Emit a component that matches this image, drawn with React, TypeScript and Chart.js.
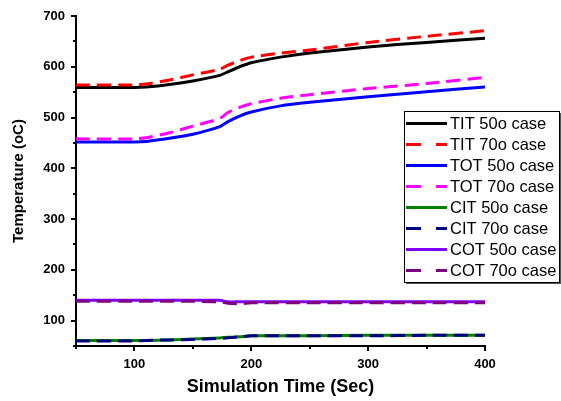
import React, { useEffect, useRef } from "react";
import { Chart, registerables } from "chart.js";

Chart.register(...registerables);

const timeSec = [50, 100, 110, 130, 150, 173, 180, 190, 200, 225, 250, 300, 350, 400];
const tit50 = [559, 559, 560, 565, 572, 583, 590, 600, 608, 619, 627, 639, 648, 656];
const tit70 = [564, 564, 566, 574, 584, 595, 603, 612, 619, 627, 633, 648, 660, 671];
const tot50 = [452, 452, 453, 459, 467, 482, 492, 503, 511, 523, 530, 541, 551, 560];
const tot70 = [458, 458, 460, 470, 483, 498, 510, 520, 527, 538, 545, 557, 567, 579];
const cit50 = [61, 61, 61, 62, 64, 66, 67, 68, 70, 70, 70, 71, 71, 71];
const cit70 = [60, 60, 61, 62, 63, 65, 66, 68, 70, 70, 70, 70, 71, 71];
const cot50 = [140, 140, 140, 140, 140, 140, 137, 137, 137, 137, 137, 137, 137, 137];
const cot70 = [138, 138, 138, 138, 138, 137, 134, 133, 135, 135, 135, 135, 135, 135];

const seriesNames = [
  "TIT 50o case", "TIT 70o case", "TOT 50o case", "TOT 70o case",
  "CIT 50o case", "CIT 70o case", "COT 50o case", "COT 70o case",
];
const seriesValues = [tit50, tit70, tot50, tot70, cit50, cit70, cot50, cot70];
const seriesColors = ["#000000", "#ff0000", "#0000ff", "#ff00ff", "#008000", "#000080", "#8000ff", "#800080"];
const seriesDashed = [false, true, false, true, false, true, false, true];

const xTickLabels = [100, 200, 300, 400];
const yTickLabels = [100, 200, 300, 400, 500, 600, 700];

const FONT = "'Liberation Sans', Arial, sans-serif";

const axisTicksPlugin = {
  id: "axisTicks",
  afterDraw(chart: any) {
    const ctx = chart.ctx;
    const xs = chart.scales.x;
    const ys = chart.scales.y;
    const area = chart.chartArea;
    ctx.save();
    ctx.strokeStyle = "#000";
    ctx.lineWidth = 2;
    for (let v = 50; v <= 400; v += 50) {
      const px = Math.round(xs.getPixelForValue(v));
      const len = xTickLabels.includes(v) ? 5 : 3;
      ctx.beginPath();
      ctx.moveTo(px, area.bottom);
      ctx.lineTo(px, area.bottom + len);
      ctx.stroke();
    }
    for (let v = 50; v <= 700; v += 50) {
      const py = Math.round(ys.getPixelForValue(v));
      const len = yTickLabels.includes(v) ? 5 : 3;
      ctx.beginPath();
      ctx.moveTo(area.left, py);
      ctx.lineTo(area.left - len, py);
      ctx.stroke();
    }
    ctx.restore();
  },
};

const legendPlugin = {
  id: "boxLegend",
  afterDraw(chart: any) {
    const ctx = chart.ctx;
    const left = 404;
    const top = 111;
    const w = 155;
    const h = 171;
    ctx.save();
    ctx.fillStyle = "#555";
    ctx.fillRect(left + 2, top + 2, w, h);
    ctx.fillStyle = "#fff";
    ctx.fillRect(left, top, w, h);
    ctx.strokeStyle = "#000";
    ctx.lineWidth = 1;
    ctx.strokeRect(left + 0.5, top + 0.5, w, h);
    ctx.font = `16.5px ${FONT}`;
    ctx.textBaseline = "middle";
    ctx.textAlign = "left";
    for (let i = 0; i < seriesNames.length; i++) {
      const cy = top + 12.5 + i * 21;
      ctx.strokeStyle = seriesColors[i];
      ctx.lineWidth = 3;
      ctx.setLineDash(seriesDashed[i] ? [15, 15] : []);
      ctx.beginPath();
      ctx.moveTo(406, cy);
      ctx.lineTo(447, cy);
      ctx.stroke();
      ctx.setLineDash([]);
      ctx.fillStyle = "#000";
      ctx.fillText(seriesNames[i], 450, cy + 1);
    }
    ctx.restore();
  },
};

export default function App() {
  const ref = useRef<HTMLCanvasElement>(null);
  useEffect(() => {
    if (!ref.current) return;
    const datasets = seriesNames.map((name, i) => ({
      label: name,
      data: timeSec.map((t, j) => ({ x: t, y: seriesValues[i][j] })),
      borderColor: seriesColors[i],
      backgroundColor: seriesColors[i],
      borderWidth: 3,
      borderDash: seriesDashed[i] ? [14, 7] : [],
      pointRadius: 0,
      tension: 0.2,
      fill: false,
      order: seriesNames.length - i,
    }));
    const chart = new Chart(ref.current, {
      type: "line",
      data: { datasets },
      options: {
        animation: false,
        responsive: false,
        maintainAspectRatio: false,
        layout: { padding: { top: 16, right: 76, left: 10, bottom: 3 } },
        plugins: { legend: { display: false }, tooltip: { enabled: false } },
        scales: {
          x: {
            type: "linear",
            min: 50,
            max: 400,
            border: { display: true, color: "#000", width: 2 },
            grid: { display: true, drawOnChartArea: false, drawTicks: true, tickLength: 5, color: "rgba(0,0,0,0)" },
            ticks: {
              stepSize: 50,
              autoSkip: false,
              maxRotation: 0,
              padding: 6,
              color: "#000",
              font: { family: FONT, size: 13, weight: "bold" },
              callback: (v: any) => (xTickLabels.includes(Number(v)) ? String(v) : ""),
            },
            title: {
              display: true,
              text: "Simulation Time (Sec)",
              color: "#000",
              font: { family: FONT, size: 18, weight: "bold" },
              padding: { top: 4, bottom: 0 },
            },
            afterFit: (s: any) => { s.height = 52; },
          },
          y: {
            type: "linear",
            min: 50,
            max: 700,
            border: { display: true, color: "#000", width: 2 },
            grid: { display: true, drawOnChartArea: false, drawTicks: true, tickLength: 5, color: "rgba(0,0,0,0)" },
            ticks: {
              stepSize: 50,
              autoSkip: false,
              padding: 6,
              color: "#000",
              font: { family: FONT, size: 13, weight: "bold" },
              callback: (v: any) => (yTickLabels.includes(Number(v)) ? String(v) : ""),
            },
            title: {
              display: true,
              text: "Temperature (oC)",
              color: "#000",
              font: { family: FONT, size: 15, weight: "bold" },
              padding: { top: 0, bottom: 4 },
            },
            afterFit: (s: any) => { s.width = 66; },
          },
        },
      },
      plugins: [axisTicksPlugin, legendPlugin],
    });
    return () => chart.destroy();
  }, []);
  return (
    <canvas
      ref={ref}
      width={561}
      height={401}
      style={{ position: "fixed", left: 0, top: 0, width: 561, height: 401, background: "#fff" }}
    />
  );
}
